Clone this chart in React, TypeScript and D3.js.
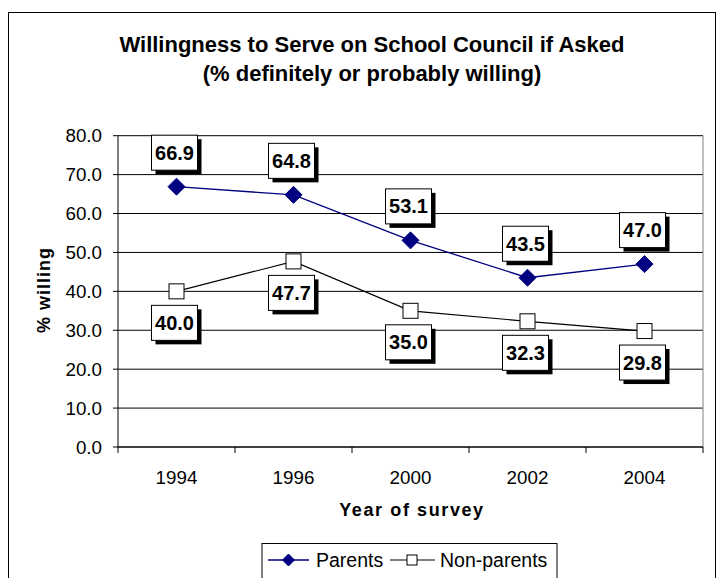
import React from "react";
import * as d3 from "d3";

const years = ["1994", "1996", "2000", "2002", "2004"];
const parents = [66.9, 64.8, 53.1, 43.5, 47.0];
const nonParents = [40.0, 47.7, 35.0, 32.3, 29.8];
const yTicks = [0, 10, 20, 30, 40, 50, 60, 70, 80];
const titleLines = ["Willingness to Serve on School Council if Asked", "(% definitely or probably willing)"];

const FONT = "Arial, 'Liberation Sans', Helvetica, sans-serif";
const NAVY = "#000080";

function LabelBox({ cx, cy, text }: { cx: number; cy: number; text: string }) {
  const w = 46;
  const h = 35;
  const x0 = cx - w / 2;
  const y0 = cy - h / 2;
  return (
    <g>
      <rect x={x0 + 4} y={y0 + 4} width={w} height={h} fill="#000" />
      <rect x={x0} y={y0} width={w} height={h} fill="#fff" stroke="#000" strokeWidth={1} />
      <text x={cx} y={cy + 7} textAnchor="middle" fontFamily={FONT} fontWeight="bold" fontSize={20} fill="#000">
        {text}
      </text>
    </g>
  );
}

function Diamond({ cx, cy, r }: { cx: number; cy: number; r: number }) {
  return <path d={`M${cx},${cy - r}L${cx + r},${cy}L${cx},${cy + r}L${cx - r},${cy}Z`} fill={NAVY} stroke={NAVY} />;
}

function Square({ cx, cy, s }: { cx: number; cy: number; s: number }) {
  return <rect x={cx - s / 2} y={cy - s / 2} width={s} height={s} fill="#fff" stroke="#000" strokeWidth={1} />;
}

export default function App() {
  const left = 118;
  const right = 703;
  const top = 135.7;
  const bottom = 447;
  const x = d3.scaleBand<string>().domain(years).range([left, right]).padding(0);
  const y = d3.scaleLinear().domain([0, 80]).range([bottom, top]);
  const cx = (d: string) => (x(d) as number) + x.bandwidth() / 2;

  const line = d3
    .line<number>()
    .x((_, i) => cx(years[i]))
    .y((v) => y(v));

  const boundaries = years.map((d) => x(d) as number).concat([right]);

  return (
    <svg
      width={720}
      height={578}
      style={{ position: "absolute", left: 0, top: 0, background: "#fff" }}
      fontFamily={FONT}
    >
      <rect x={0} y={0} width={720} height={578} fill="#fff" />
      <rect x={8.5} y={12.5} width={707} height={580} fill="none" stroke="#000" strokeWidth={1} />

      {titleLines.map((t, i) => (
        <text key={i} x={372} y={52 + i * 29} textAnchor="middle" fontWeight="bold" fontSize={22} fill="#000">
          {t}
        </text>
      ))}

      {/* gridlines */}
      {yTicks.map((t) => (
        <line key={t} x1={left} x2={right} y1={y(t)} y2={y(t)} stroke="#000" strokeWidth={1} />
      ))}
      <line x1={right} x2={right} y1={top} y2={bottom} stroke="#808080" strokeWidth={1} />

      {/* y axis */}
      <line x1={left} x2={left} y1={top} y2={bottom} stroke="#000" strokeWidth={1} />
      {yTicks.map((t) => (
        <g key={t}>
          <line x1={left - 5} x2={left} y1={y(t)} y2={y(t)} stroke="#000" />
          <text x={102} y={y(t) + 6.5} textAnchor="end" fontSize={18.8} fill="#000">
            {t.toFixed(1)}
          </text>
        </g>
      ))}

      {/* x axis */}
      <line x1={left} x2={right} y1={bottom} y2={bottom} stroke="#000" strokeWidth={1} />
      {boundaries.map((b, i) => (
        <line key={i} x1={b} x2={b} y1={bottom} y2={bottom + 6} stroke="#000" />
      ))}
      {years.map((d) => (
        <text key={d} x={cx(d)} y={484} textAnchor="middle" fontSize={18.8} fill="#000">
          {d}
        </text>
      ))}

      <text x={412} y={516} textAnchor="middle" fontWeight="bold" fontSize={18} letterSpacing={1.6} fill="#000">
        Year of survey
      </text>
      <text
        transform={`translate(50,290) rotate(-90)`}
        textAnchor="middle"
        fontWeight="bold"
        fontSize={18}
        letterSpacing={1}
        fill="#000"
      >
        % willing
      </text>

      {/* series */}
      <path d={line(nonParents) as string} fill="none" stroke="#000" strokeWidth={1.2} />
      <path d={line(parents) as string} fill="none" stroke={NAVY} strokeWidth={1.3} />
      {parents.map((v, i) => (
        <Diamond key={i} cx={cx(years[i])} cy={y(v)} r={8.5} />
      ))}
      {nonParents.map((v, i) => (
        <Square key={i} cx={cx(years[i])} cy={y(v)} s={15} />
      ))}

      {/* labels */}
      {parents.map((v, i) => (
        <LabelBox key={i} cx={cx(years[i]) - 2} cy={y(v) - 34} text={v.toFixed(1)} />
      ))}
      {nonParents.map((v, i) => (
        <LabelBox key={i} cx={cx(years[i]) - 2} cy={y(v) + 31.5} text={v.toFixed(1)} />
      ))}

      {/* legend */}
      <rect x={262} y={543.5} width={295} height={40} fill="#fff" stroke="#000" strokeWidth={1} />
      <line x1={268} x2={309} y1={560} y2={560} stroke={NAVY} strokeWidth={1.3} />
      <Diamond cx={288.5} cy={560} r={6} />
      <text x={316} y={567} fontSize={19.5} fill="#000">
        Parents
      </text>
      <line x1={390} x2={435} y1={560} y2={560} stroke="#000" strokeWidth={1.2} />
      <Square cx={412} cy={560} s={10} />
      <text x={440} y={567} fontSize={19.5} fill="#000">
        Non-parents
      </text>
    </svg>
  );
}
